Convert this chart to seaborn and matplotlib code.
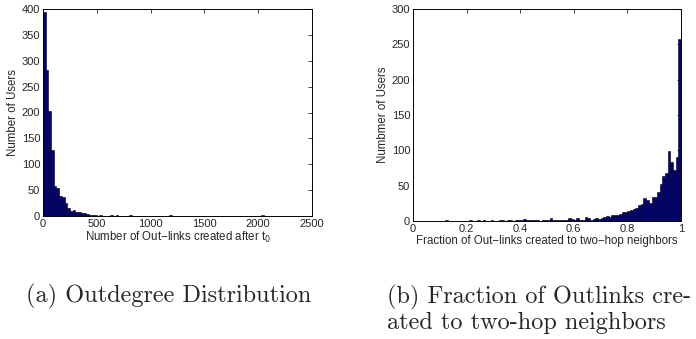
#!/usr/bin/env python3
import numpy as np
import pandas as pd
import matplotlib
matplotlib.use("Agg")
import matplotlib.pyplot as plt
import seaborn as sns

# (a) outdegree histogram, bins of 25 out-links
out_bin_width = 25
out_counts_head = [395, 283, 202, 128, 58, 55, 38, 36, 25, 16, 10, 11, 8, 7, 5, 5, 3, 2, 1, 2]
out_tail_bins = [21, 25, 27, 32, 47, 81]
out_tail_counts = [1, 2, 1, 1, 1, 1]

# (b) fraction of out-links to two-hop neighbors, bins of 0.01
frac_bin_width = 0.01
frac_counts = [
    0, 0, 0, 0, 0, 0, 0, 0, 0, 0,
    0, 0, 1, 0, 0, 0, 0, 0, 0, 0,
    0, 1, 0, 0, 1, 0, 1, 0, 0, 1,
    0, 0, 1, 1, 0, 1, 1, 0, 1, 1,
    2, 3, 1, 2, 1, 1, 1, 0, 1, 1,
    1, 4, 1, 2, 2, 1, 1, 2, 4, 3,
    2, 4, 2, 2, 6, 4, 2, 3, 4, 3,
    4, 5, 7, 6, 8, 8, 9, 10, 13, 13,
    14, 16, 17, 18, 23, 24, 33, 30, 25, 34,
    34, 41, 52, 63, 68, 99, 83, 72, 90, 258,
]

bar_color = "#000080"


def out_frame():
    n_bins = 100
    counts = np.zeros(n_bins)
    counts[: len(out_counts_head)] = out_counts_head
    for b, c in zip(out_tail_bins, out_tail_counts):
        counts[b] = c
    centers = (np.arange(n_bins) + 0.5) * out_bin_width
    return pd.DataFrame({"x": centers, "count": counts})


def frac_frame():
    n_bins = len(frac_counts)
    centers = (np.arange(n_bins) + 0.5) * frac_bin_width
    return pd.DataFrame({"x": centers, "count": frac_counts})


def draw_hist(ax, df, edges, xlim, ylim, xticks, yticks, xlabel, ylabel):
    sns.histplot(data=df, x="x", weights="count", bins=list(edges), ax=ax,
                 stat="count", color=bar_color, alpha=1, edgecolor="black", linewidth=0.4)
    ax.set_xlim(*xlim)
    ax.set_ylim(*ylim)
    ax.set_xticks(xticks)
    ax.set_yticks(yticks)
    ax.set_xlabel(xlabel, fontsize=8.3, labelpad=1)
    ax.set_ylabel(ylabel, fontsize=8.3, labelpad=2)
    ax.tick_params(direction="in", top=True, right=True, labelsize=8,
                   length=3, width=0.6, pad=2)
    for s in ax.spines.values():
        s.set_linewidth(0.7)
        s.set_color("black")


sns.set_style("white")
plt.rcParams["font.family"] = ["Liberation Sans", "DejaVu Sans"]

fig = plt.figure(figsize=(6.96, 3.39), dpi=100)
ax1 = fig.add_axes([43 / 696, 1 - 216 / 339, 269 / 696, 207 / 339])
ax2 = fig.add_axes([413 / 696, 1 - 221 / 339, 268 / 696, 212 / 339])

draw_hist(ax1, out_frame(), np.arange(0, 2501, out_bin_width),
          (0, 2500), (0, 400), range(0, 2501, 500), range(0, 401, 50),
          "Number of Out\u2212links created after t$_0$", "Number of Users")

fr = [0, 0.2, 0.4, 0.6, 0.8, 1]
draw_hist(ax2, frac_frame(), np.linspace(0, 1, 101),
          (0, 1), (0, 300), fr, range(0, 301, 50),
          "Fraction of Out\u2212links created to two\u2212hop neighbors", "Numbmer of Users")
ax2.set_xticklabels(["0", "0.2", "0.4", "0.6", "0.8", "1"])

fig.text(26 / 696, 1 - 296 / 339, "(a) Outdegree Distribution",
         family="cmr10", fontsize=17.5, va="center", ha="left")
fig.text(387 / 696, 1 - 297 / 339, "(b) Fraction of Outlinks cre-",
         family="cmr10", fontsize=17.5, va="center", ha="left")
fig.text(387 / 696, 1 - 323 / 339, "ated to two-hop neighbors",
         family="cmr10", fontsize=17.5, va="center", ha="left")

fig.savefig("out.png", dpi=100)
